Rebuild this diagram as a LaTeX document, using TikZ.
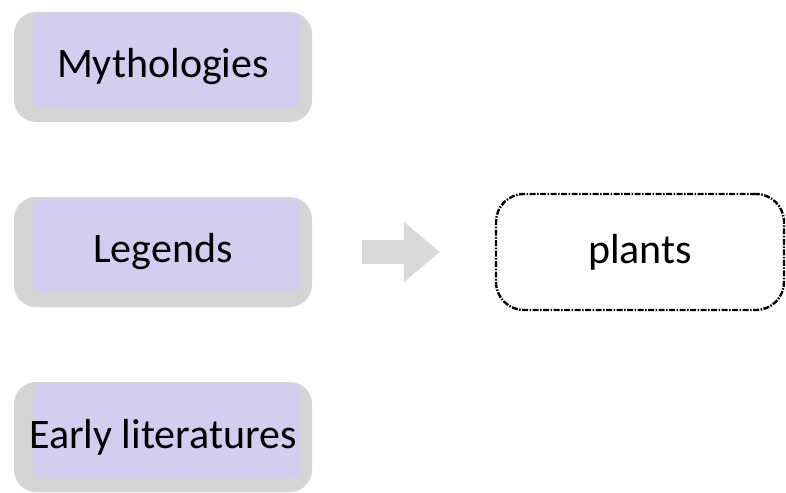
\documentclass[tikz,border=0pt]{standalone}
\usepackage{fontspec}
\setmainfont{Carlito}
\usetikzlibrary{arrows.meta}
\definecolor{lavender}{HTML}{D2CEF0}
\definecolor{boxgray}{HTML}{D5D5D5}
\definecolor{arrowgray}{HTML}{D9D9D9}
\tikzset{
    source/.style={fill=boxgray, rounded corners=22pt, minimum width=298pt, minimum height=110pt,
        inner sep=0pt, font=\fontsize{42}{48}\selectfont,
        path picture={\fill[lavender, rounded corners=8pt]
            ([xshift=19pt,yshift=-2pt]path picture bounding box.north west) rectangle
            ([xshift=-12pt,yshift=15pt]path picture bounding box.south east);}},
    target/.style={draw, line width=2.4pt, rounded corners=28pt, dash pattern=on 6pt off 1.5pt on 1.5pt off 1.5pt,
        minimum width=288pt, minimum height=116pt, font=\fontsize{42}{48}\selectfont}
}
\begin{document}
\begin{tikzpicture}[x=1pt,y=-1pt]
    \useasboundingbox (0,0) rectangle (786,492);
    \node[source] (myth) at (163,67) {Mythologies};
    \node[source] (legends) at (163,252) {Legends};
    \node[source] (early) at (163,437) {Early literatures};
    \node[target] (plants) at (640,252) {plants};
    \draw[arrowgray, line width=24pt, -{Triangle[length=36pt,width=58pt]},
        shorten <=50pt, shorten >=55pt] (legends) -- (plants);
\end{tikzpicture}
\end{document}
